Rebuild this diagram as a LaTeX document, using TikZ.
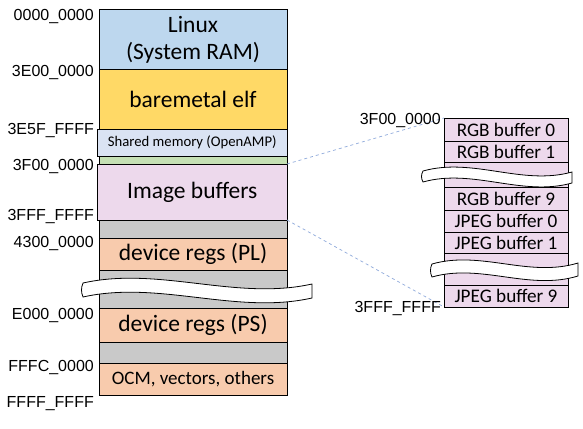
\documentclass[tikz,border=0pt]{standalone}
\usepackage{fontspec}
\setmainfont{Carlito}
\newfontfamily\addrfont{Liberation Sans}
\definecolor{linuxc}{HTML}{BDD7EE}
\definecolor{goldc}{HTML}{FFD966}
\definecolor{sharedc}{HTML}{DAE3F3}
\definecolor{greenc}{HTML}{C5E0B4}
\definecolor{pinkc}{HTML}{EDD9EC}
\definecolor{grayc}{HTML}{C9C9C9}
\definecolor{orangec}{HTML}{F8CBAD}
\definecolor{linkc}{HTML}{8EA9DB}
\begin{document}
\begin{tikzpicture}[x=1pt,y=-1pt,
  mem/.style={draw=black, line width=0.8pt, inner sep=0pt, outer sep=0pt, minimum width=188pt, text=black},
  big/.style={font=\fontsize{23.5}{27}\selectfont},
  rbuf/.style={draw=black, line width=0.8pt, inner sep=0pt, outer sep=0pt, minimum width=124pt, fill=pinkc, font=\fontsize{19.2}{21}\selectfont},
  addr/.style={font=\addrfont\fontsize{16}{18}\selectfont, inner sep=0pt, anchor=base east},
  brk/.style={draw=black, line width=0.8pt, fill=white},
  link/.style={draw=linkc, dashed, line width=0.7pt}]
\useasboundingbox[fill=white] (0,0) rectangle (583,428);

% left memory map
\node[mem, big, fill=linuxc, minimum height=60pt, align=center] (linux) at (193,39.5) {Linux\\(System RAM)};
\node[mem, big, fill=goldc, minimum height=60pt] (bare) at (193,99.5) {baremetal elf};
\node[mem, fill=sharedc, minimum width=189.5pt, minimum height=26.5pt, font=\fontsize{14.7}{16}\selectfont] (shared) at (192.25,142.75) {Shared memory (OpenAMP)};
\node[mem, fill=greenc, minimum height=8pt] (green) at (193,160) {};
\node[mem, big, fill=pinkc, minimum width=189.5pt, minimum height=56pt] (img) at (192.25,192) {Image buffers};
\node[mem, fill=grayc, minimum height=18pt] (gray1) at (193,229) {};
\node[mem, big, fill=orangec, minimum height=32pt] (pl) at (193,254) {device regs (PL)};
\node[mem, fill=grayc, minimum height=38pt] (gray2) at (193,289) {};
\node[mem, big, fill=orangec, minimum height=34pt] (ps) at (193,325) {device regs (PS)};
\node[mem, fill=grayc, minimum height=21pt] (gray3) at (193,352.5) {};
\node[mem, fill=orangec, minimum height=32pt, font=\fontsize{19}{21}\selectfont] (ocm) at (193,379) {OCM, vectors, others};

% left break
\draw[brk] (83,283) .. controls (159,266) and (236,301) .. (312,284) -- (312,298)
  .. controls (236,315) and (159,280) .. (83,297) .. controls (81,292) and (81,288) .. (83,283) -- cycle;

% right buffers
\node[rbuf, minimum height=23pt] (rgb0) at (506,129.5) {RGB buffer 0};
\node[rbuf, minimum height=21pt] (rgb1) at (506,151.5) {RGB buffer 1};
\node[rbuf, minimum height=25pt] (gapa) at (506,174.5) {};
\node[rbuf, minimum height=23pt] (rgb9) at (506,198.5) {RGB buffer 9};
\node[rbuf, minimum height=22pt] (jpg0) at (506,221) {JPEG buffer 0};
\node[rbuf, minimum height=21pt] (jpg1) at (506,242.5) {JPEG buffer 1};
\node[rbuf, minimum height=32pt] (gapb) at (506,269) {};
\node[rbuf, minimum height=22pt] (jpg9) at (506,296) {JPEG buffer 9};

% right breaks
\draw[brk] (423,171) .. controls (473,157) and (522,186) .. (572,172) -- (572,183)
  .. controls (522,197) and (473,168) .. (423,182) .. controls (421,178) and (421,175) .. (423,171) -- cycle;
\draw[brk] (432,264) .. controls (481,250) and (529,278) .. (578,263) -- (578,276)
  .. controls (529,291) and (481,263) .. (432,277) .. controls (430,273) and (430,268) .. (432,264) -- cycle;

% dashed links
\draw[link] (img.north east) -- (rgb0.north west);
\draw[link] (img.south east) -- (jpg9.south west);

% addresses
\node[addr] (a0) at (94,21) {0000\_0000};
\node[addr] (a1) at (94,76) {3E00\_0000};
\node[addr] (a2) at (94,134) {3E5F\_FFFF};
\node[addr] (a3) at (94,170) {3F00\_0000};
\node[addr] (a4) at (94,220) {3FFF\_FFFF};
\node[addr] (a5) at (94,247) {4300\_0000};
\node[addr] (a6) at (94,319) {E000\_0000};
\node[addr] (a7) at (94,371) {FFFC\_0000};
\node[addr] (a8) at (94,407) {FFFF\_FFFF};
\node[addr] (b0) at (441,124) {3F00\_0000};
\node[addr] (b1) at (441,312) {3FFF\_FFFF};
\end{tikzpicture}
\end{document}
